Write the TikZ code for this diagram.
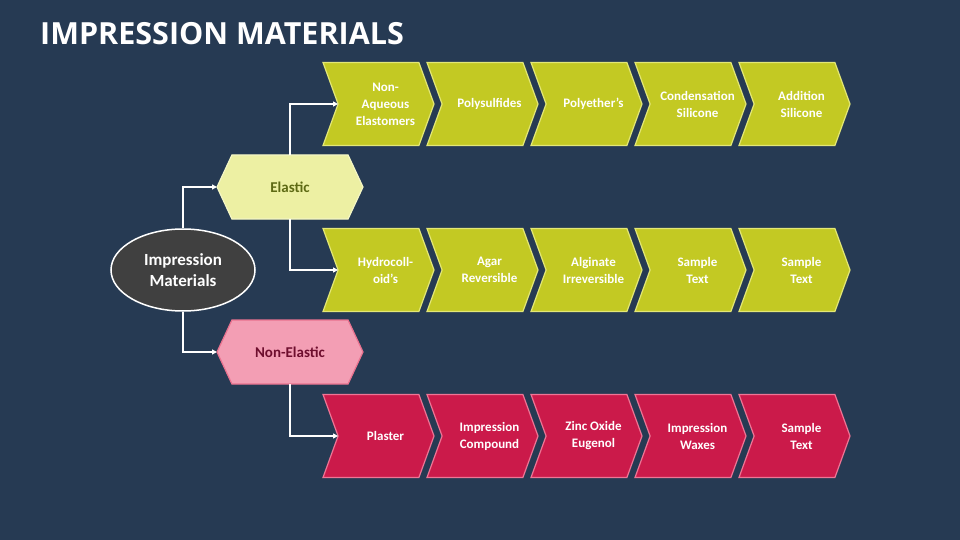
\documentclass[tikz,border=0pt]{standalone}
\usepackage{fontspec}
\setmainfont{Carlito}
\newfontfamily\titlefont{Open Sans}
\usetikzlibrary{shapes.symbols,shapes.geometric,arrows.meta}

\definecolor{bg}{HTML}{263A53}
\definecolor{elfill}{HTML}{C3C923}
\definecolor{elline}{HTML}{E3E776}
\definecolor{nefill}{HTML}{CB1A4A}
\definecolor{neline}{HTML}{EE7595}
\definecolor{hexel}{HTML}{EDF0A3}
\definecolor{hexelline}{HTML}{F4F6C4}
\definecolor{hexne}{HTML}{F39EB4}
\definecolor{hexneline}{HTML}{E9728F}
\definecolor{eltext}{HTML}{5E6A14}
\definecolor{netext}{HTML}{6E0E2E}
\definecolor{rootfill}{HTML}{404040}

\tikzset{
  chev/.style={signal, signal from=west, signal to=east, signal pointer angle=140,
    minimum width=111pt, minimum height=83pt, inner sep=0pt, outer sep=0pt,
    line width=1.2pt},
  chevtxt/.style={text=white, align=center, xshift=7pt, inner sep=0pt,
    font=\bfseries\fontsize{13}{17}\selectfont},
  elchev/.style={chev, fill=elfill, draw=elline, label={[chevtxt]center:{#1}}},
  nechev/.style={chev, fill=nefill, draw=neline, label={[chevtxt]center:{#1}}},
  hexa/.style={signal, signal to=east and west, signal pointer angle=130,
    minimum width=146pt, minimum height=64pt, inner sep=0pt, outer sep=0pt,
    line width=1.2pt, font=\bfseries\fontsize{15}{18}\selectfont},
  link/.style={draw=white, line width=1.5pt, -{Triangle[length=5pt,width=5pt]}}
}

\begin{document}
\begin{tikzpicture}[x=1pt, y=-1pt]
  \useasboundingbox (0,0) rectangle (960,540);
  \fill[bg] (0,0) rectangle (960,540);

  \node (ttl) [anchor=base west, inner sep=0pt, text=white,
        font=\titlefont\bfseries\fontsize{30.5}{34}\selectfont]
        at (40,45) {IMPRESSION MATERIALS};

  % root and the two groups
  \node (root) [ellipse, minimum width=144pt, minimum height=82pt, fill=rootfill, draw=white,
        line width=1.5pt, text=white, align=center, font=\bfseries\fontsize{17}{21}\selectfont]
        at (183,270) {Impression\\Materials};
  \node (el) [hexa, fill=hexel, draw=hexelline, text=eltext] at (290,187) {Elastic};
  \node (nel) [hexa, fill=hexne, draw=hexneline, text=netext] at (290,352) {Non-Elastic};

  % elastic, first row
  \node (e1) [elchev={Non-\\Aqueous\\Elastomers}] at (378.5,104) {};
  \node (e2) [elchev={Polysulfides}] at (482.5,104) {};
  \node (e3) [elchev={Polyether's}] at (586.5,104) {};
  \node (e4) [elchev={Condensation\\Silicone}] at (690.5,104) {};
  \node (e5) [elchev={Addition\\Silicone}] at (794.5,104) {};

  % elastic, second row
  \node (h1) [elchev={Hydrocoll-\\oid's}] at (378.5,270) {};
  \node (h2) [elchev={Agar\\Reversible}] at (482.5,270) {};
  \node (h3) [elchev={Alginate\\Irreversible}] at (586.5,270) {};
  \node (h4) [elchev={Sample\\Text}] at (690.5,270) {};
  \node (h5) [elchev={Sample\\Text}] at (794.5,270) {};

  % non-elastic row
  \node (n1) [nechev={Plaster}] at (378.5,436) {};
  \node (n2) [nechev={Impression\\Compound}] at (482.5,436) {};
  \node (n3) [nechev={Zinc Oxide\\Eugenol}] at (586.5,436) {};
  \node (n4) [nechev={Impression\\Waxes}] at (690.5,436) {};
  \node (n5) [nechev={Sample\\Text}] at (794.5,436) {};

  % connectors
  \draw[link] (root.north) |- (el.west);
  \draw[link] (root.south) |- (nel.west);
  \draw[link] (el.north) |- (e1.west);
  \draw[link] (el.south) |- (h1.west);
  \draw[link] (nel.south) |- (n1.west);
\end{tikzpicture}
\end{document}
